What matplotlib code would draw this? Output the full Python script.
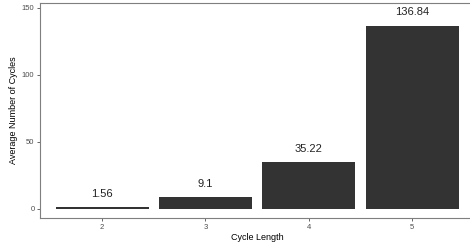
import matplotlib
matplotlib.use("Agg")
import matplotlib.pyplot as plt

cycle_length = [2, 3, 4, 5]
avg_cycles = [1.56, 9.1, 35.22, 136.84]
labels = ["1.56", "9.1", "35.22", "136.84"]

plt.rcParams['font.family'] = ['Liberation Sans', 'DejaVu Sans']

fig = plt.figure(figsize=(4.7, 2.46), dpi=100)
ax = fig.add_axes([40/470, 1-218/246, 434/470, 215/246])

ax.bar(cycle_length, avg_cycles, width=0.9, color='#333333')
for x, v, t in zip(cycle_length, avg_cycles, labels):
    ax.annotate(t, (x, v), xytext=(0, 9.5), textcoords='offset points',
                ha='center', va='center', fontsize=8, color='#222222')

ax.set_xlim(1.4, 5.6)
ax.set_ylim(-6.8, 153.7)
ax.set_xticks(cycle_length)
ax.set_yticks([0, 50, 100, 150])
ax.tick_params(labelsize=5.5, colors='#4d4d4d', length=2.5, width=0.6, pad=1.5)
for s in ax.spines.values():
    s.set_color('#7f7f7f')
    s.set_linewidth(0.8)
ax.set_xlabel('Cycle Length', fontsize=6.5, labelpad=1.5)
ax.set_ylabel('Average Number of Cycles', fontsize=6.5, labelpad=3)

fig.savefig('out.png', dpi=100)
